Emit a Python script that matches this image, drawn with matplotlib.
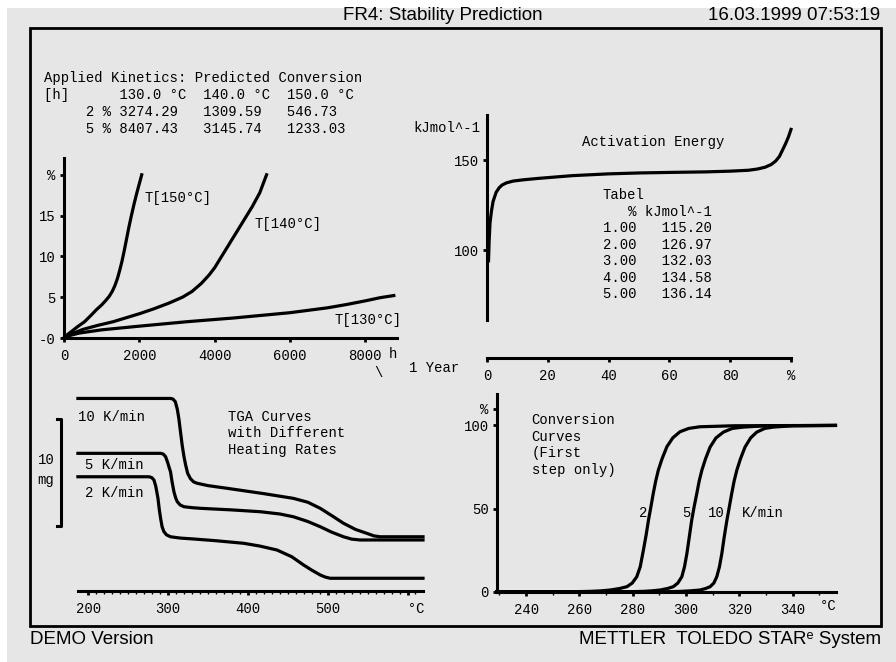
import numpy as np
import matplotlib
matplotlib.use("Agg")
import matplotlib.pyplot as plt
from matplotlib.patches import Rectangle

plt.rcParams['font.family'] = ['Liberation Mono', 'DejaVu Sans Mono']
plt.rcParams['font.size'] = 10

W, H = 896, 662
GRAY = '#e6e6e6'
MONO = ['Liberation Mono', 'DejaVu Sans Mono']
SANS = ['Liberation Sans', 'DejaVu Sans']

# --- data ---
# predicted conversion (hours) for 130/140/150 degC
temps = [130.0, 140.0, 150.0]
hours_2pct = [3274.29, 1309.59, 546.73]
hours_5pct = [8407.43, 3145.74, 1233.03]

t130_h = [0, 150, 400, 1000, 2000, 3274, 4500, 6000, 7000, 7500, 8000, 8407, 8760]
t130_c = [0, 0.3, 0.6, 1.0, 1.45, 2.0, 2.45, 3.1, 3.7, 4.1, 4.55, 4.95, 5.2]
t140_h = [0, 200, 500, 900, 1310, 1700, 2019, 2400, 2800, 3146, 3400, 3650, 3850,
          4000, 4200, 4400, 4600, 4800, 5000, 5200, 5380]
t140_c = [0, 0.5, 1.05, 1.55, 2.0, 2.55, 3.0, 3.6, 4.3, 5.0, 5.7, 6.7, 7.7,
          8.6, 10.1, 11.6, 13.1, 14.6, 16.1, 17.8, 20.0]
t150_h = [0, 100, 200, 350, 547, 700, 868, 1000, 1100, 1200, 1280, 1350, 1420,
          1480, 1540, 1600, 1660, 1720, 1790, 1860, 1930, 2000, 2064]
t150_c = [0, 0.45, 0.8, 1.35, 2.0, 2.7, 3.5, 4.05, 4.55, 5.1, 5.7, 6.4, 7.3,
          8.3, 9.4, 10.7, 12.1, 13.5, 15.0, 16.4, 17.7, 18.9, 20.0]

# activation energy vs conversion
tab_conv = [1.00, 2.00, 3.00, 4.00, 5.00]
tab_E = [115.20, 126.97, 132.03, 134.58, 136.14]
ea_conv = [0.5, 0.7, 1, 1.5, 2, 3, 4, 5, 6.4, 8.6, 12, 17, 28, 40, 50, 60, 72,
           80, 86, 89, 91.5, 93.5, 95, 96.2, 97.2, 98.2, 99.2, 100]
ea_E = [94, 105, 115.2, 122, 126.97, 132.03, 134.58, 136.14, 137.3, 138.3, 139.0,
        139.8, 141.3, 142.3, 142.8, 143.1, 143.4, 143.8, 144.3, 145, 146, 147.5,
        149.5, 152, 155.5, 159, 163, 167]

# TGA curves (mg, offset as displayed)
tga10_T = [187, 303, 306, 309, 311.5, 313.5, 315.5, 317.7, 319.8, 321.9, 324.5,
           328, 332, 336.5, 350, 374, 420, 457, 475, 490.6, 505, 519.8, 535,
           549, 558, 565.6, 619.4]
tga10_m = [18.0, 18.0, 17.95, 17.7, 17.0, 16.1, 14.9, 13.6, 12.6, 11.8, 11.0,
           10.5, 10.2, 10.07, 9.85, 9.6, 9.1, 8.66, 8.3, 7.73, 7.05, 6.33, 5.75,
           5.39, 5.15, 5.07, 5.07]
tga5_T = [187, 290.6, 294, 296.9, 299.5, 301.5, 303, 305, 307.3, 309.5, 311.5,
          315, 319.8, 330, 340.6, 380, 415.6, 440, 457, 475, 490.6, 505, 519.8,
          530, 540.6, 619.4]
tga5_m = [12.87, 12.87, 12.8, 12.55, 12.0, 11.5, 11.15, 10.2, 9.28, 8.7, 8.35,
          8.05, 7.88, 7.79, 7.73, 7.58, 7.41, 7.2, 6.94, 6.5, 6.01, 5.5, 5.07,
          4.85, 4.77, 4.77]
tga2_T = [187, 276, 279.5, 282.3, 284.5, 286, 287.3, 289, 290.6, 292.5, 294.8,
          298, 303, 315, 332.3, 360, 394.8, 415, 436.5, 455, 469.8, 480, 490.6,
          497, 503, 619.4]
tga2_m = [10.68, 10.68, 10.6, 10.37, 9.8, 9.2, 8.66, 7.6, 6.79, 6.0, 5.54,
          5.25, 5.07, 4.95, 4.86, 4.7, 4.46, 4.2, 3.83, 3.2, 2.43, 1.95, 1.50,
          1.3, 1.19, 1.19]

# conversion curves (first step only)
conv2_T = [229, 258, 264, 268, 271.5, 275, 277.8, 279.8, 281.5, 282.8, 284.0,
           285.0, 285.9, 286.8, 287.7, 288.6, 289.6, 291.0, 292.8, 295.0, 297.7,
           301.0, 305.2, 318, 356]
conv2_c = [0, 0, 0.2, 0.5, 1.0, 1.9, 3.0, 5.2, 9.0, 15, 25.1, 34, 43.1, 51, 59.2,
           66.5, 73.2, 80, 87.2, 92.5, 96.2, 98.2, 99.2, 99.8, 100]
conv5_T = [229, 279, 284, 287, 290.2, 293, 295.2, 296.9, 298.4, 299.4, 300.3,
           301.2, 302.1, 303.0, 304.0, 304.9, 305.9, 307.3, 309.0, 311.2, 314.0,
           317.3, 321.5, 330, 356]
conv5_c = [0, 0, 0.2, 0.5, 1.0, 1.9, 3.0, 5.2, 9.0, 15, 23, 33, 43, 51, 59,
           66.5, 73, 80, 87, 92.5, 96, 98.2, 99, 99.8, 100]
conv10_T = [229, 293, 298, 301.5, 305.2, 307.3, 309.0, 310.4, 311.5, 312.5, 313.4,
            314.3, 315.3, 316.2, 317.1, 318.0, 319.0, 320.4, 322.1, 324.2, 326.5,
            329.5, 332.7, 340, 356]
conv10_c = [0, 0, 0.2, 0.5, 1.0, 1.9, 3.0, 5.2, 9.0, 15, 23, 33, 43, 51, 59,
            66.5, 73, 80, 87, 92.5, 96, 98.2, 99, 99.8, 100]


def fx(x):
    return x / W


def fy(y):
    return 1 - y / H


def axes_px(l, t, r, b):
    ax = fig.add_axes([fx(l), fy(b), (r - l) / W, (b - t) / H])
    ax.set_facecolor('none')
    for s in ax.spines.values():
        s.set_visible(False)
    ax.tick_params(direction='out', length=3, width=2, color='black',
                   labelsize=10, pad=3)
    return ax


def ptext(x, y, s, **kw):
    kw.setdefault('va', 'center')
    kw.setdefault('family', MONO)
    kw.setdefault('fontsize', 10)
    fig.text(fx(x), fy(y), s, **kw)


fig = plt.figure(figsize=(W / 100, H / 100), dpi=100)
fig.patch.set_facecolor('white')
fig.add_artist(Rectangle((fx(7), 0), 1, fy(8), transform=fig.transFigure,
                         facecolor=GRAY, edgecolor='none', zorder=-10))
fig.add_artist(Rectangle((fx(30), fy(626)), (881 - 30) / W, (626 - 28) / H,
                         transform=fig.transFigure, facecolor='none',
                         edgecolor='black', linewidth=2))

LW = 2.3

# header / footer
ptext(343, 15, 'FR4: Stability Prediction', family=SANS, fontsize=13.5)
ptext(880, 15, '16.03.1999 07:53:19', family=SANS, fontsize=13.5, ha='right')
ptext(30, 640, 'DEMO Version', family=SANS, fontsize=13.5)
ptext(881, 640, 'METTLER  TOLEDO STAR\u1d49 System', family=SANS,
      fontsize=13.5, ha='right')

# kinetics table
ptext(44, 78, 'Applied Kinetics: Predicted Conversion')
ptext(44, 95, '[h]      ' + '  '.join(f'{t:.1f} \u00b0C' for t in temps))
ptext(44, 112, '     2 % ' + ''.join(f'{h:<10.2f}' for h in hours_2pct))
ptext(44, 129, '     5 % ' + ''.join(f'{h:<10.2f}' for h in hours_5pct))

# --- top left: predicted conversion ---
ax1 = axes_px(64, 158, 397, 338)
ax1.set_xlim(0, 8845)
ax1.set_ylim(0, 22.06)
for s in ('left', 'bottom'):
    ax1.spines[s].set_visible(True)
    ax1.spines[s].set_linewidth(2.2)
for xs, ys in ((t130_h, t130_c), (t140_h, t140_c), (t150_h, t150_c)):
    ax1.plot(xs, ys, color='black', lw=LW, clip_on=False,
             solid_joinstyle='round')
ax1.set_xticks([0, 2000, 4000, 6000, 8000])
ax1.set_yticks([0, 5, 10, 15, 20])
ax1.set_yticklabels(['-0', '5', '10', '15', '%'])
ax1.tick_params(axis='x', pad=5)
ax1.text(2125, 17.2, 'T[150\u00b0C]', va='center')
ax1.text(5047, 14.0, 'T[140\u00b0C]', va='center')
ax1.text(7198, 2.2, 'T[130\u00b0C]', va='center')
ptext(393, 354, 'h', ha='center')
ptext(378, 373, '\\', ha='center')
ptext(409, 368, '1 Year')

# --- top right: activation energy ---
ax2 = axes_px(487, 115, 791, 358)
ax2.set_xlim(0, 100)
ax2.set_ylim(40, 175)
for s in ('left', 'bottom'):
    ax2.spines[s].set_visible(True)
    ax2.spines[s].set_linewidth(2.2)
ax2.spines['left'].set_bounds(61, 175)
ax2.plot(ea_conv, ea_E, color='black', lw=LW, clip_on=False,
         solid_joinstyle='round')
ax2.set_xticks([0, 20, 40, 60, 80, 100])
ax2.set_xticklabels(['0', '20', '40', '60', '80', '%'])
ax2.set_yticks([100, 150])
ax2.tick_params(axis='x', pad=5)
ptext(413, 128, 'kJmol^-1')
ptext(581.7, 142, 'Activation Energy')
ptext(602.7, 195, 'Tabel')
ptext(602.7, 211.5, '   % kJmol^-1')
for i, (c, e) in enumerate(zip(tab_conv, tab_E)):
    ptext(602.7, 228 + 16.6 * i, f'{c:.2f}   {e:.2f}')

# --- bottom left: TGA curves ---
ax3 = axes_px(78, 390, 423, 591)
ax3.set_xlim(187.1, 619.4)
ax3.set_ylim(0, 18.79)
ax3.spines['bottom'].set_visible(True)
ax3.spines['bottom'].set_linewidth(2.2)
for xs, ys in ((tga10_T, tga10_m), (tga5_T, tga5_m), (tga2_T, tga2_m)):
    ax3.plot(xs, ys, color='black', lw=LW, clip_on=False,
             solid_joinstyle='round')
ax3.set_xticks([200, 300, 400, 500, 600])
ax3.set_xticklabels(['200', '300', '400', '500', '  \u00b0C'])
ax3.set_xticks(np.arange(210, 620, 10), minor=True)
ax3.tick_params(axis='x', which='minor', direction='out', length=2, width=1)
ax3.tick_params(axis='x', pad=5)
ax3.set_yticks([])
# 10 mg scale bar
ax3.plot([161, 166, 166, 161], [16.07, 16.07, 6.07, 6.07], color='black',
         lw=2.2, clip_on=False)
ptext(46, 460, '10', ha='center')
ptext(46, 480, 'mg', ha='center')
ptext(78, 416.7, '10 K/min')
ptext(85, 465, '5 K/min')
ptext(85, 493.3, '2 K/min')
ptext(228.3, 416.7, 'TGA Curves')
ptext(228.3, 433.3, 'with Different')
ptext(228.3, 450, 'Heating Rates')

# --- bottom right: conversion curves ---
ax4 = axes_px(497, 394, 836, 591.7)
ax4.set_xlim(229.1, 356.2)
ax4.set_ylim(0, 118.9)
for s in ('left', 'bottom'):
    ax4.spines[s].set_visible(True)
    ax4.spines[s].set_linewidth(2.2)
for xs, ys in ((conv2_T, conv2_c), (conv5_T, conv5_c), (conv10_T, conv10_c)):
    ax4.plot(xs, ys, color='black', lw=LW, clip_on=False,
             solid_joinstyle='round')
ax4.set_xticks([240, 260, 280, 300, 320, 340])
ax4.set_xticks(np.arange(230, 356, 10), minor=True)
ax4.tick_params(axis='x', which='minor', direction='out', length=2, width=1)
ax4.tick_params(axis='x', pad=5)
ax4.set_yticks([0, 50, 100, 110])
ax4.set_yticklabels(['0', '50', '100', '%'])
ptext(828, 606, '\u00b0C', ha='center')
ptext(531.7, 420, 'Conversion')
ptext(531.7, 436.7, 'Curves')
ptext(531.7, 453.3, '(First')
ptext(531.7, 470, 'step only)')
ptext(647.3, 513.3, '2', ha='right')
ptext(691, 513.3, '5', ha='right')
ptext(724.3, 513.3, '10', ha='right')
ptext(741.7, 513.3, 'K/min')

fig.savefig('out.png', dpi=100, facecolor=fig.get_facecolor())
